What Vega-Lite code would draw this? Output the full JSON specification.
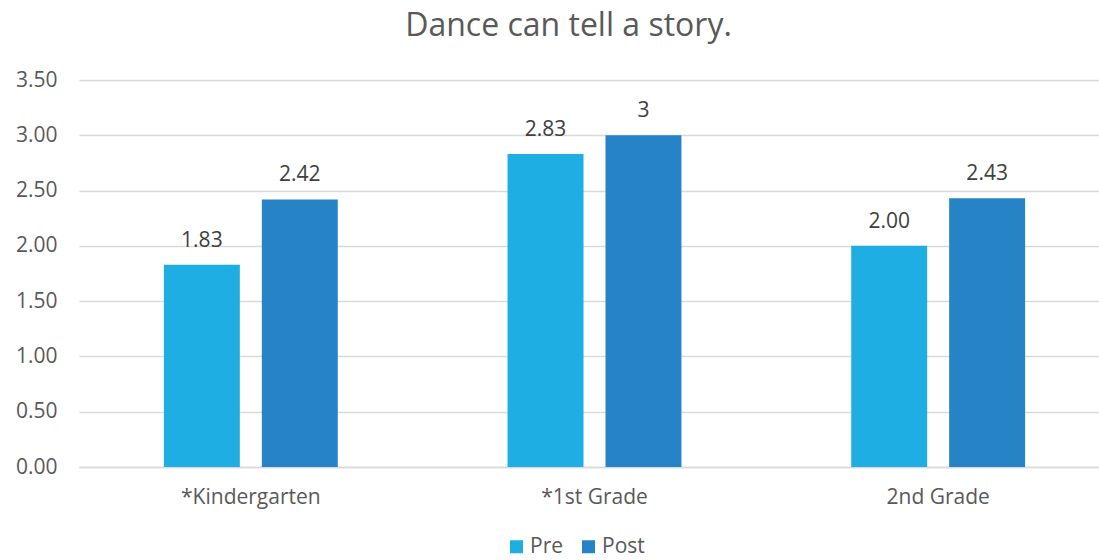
{
  "$schema": "https://vega.github.io/schema/vega-lite/v6.json",
  "autosize": {"type": "none"},
  "padding": {"left": 79, "top": 80, "right": 0, "bottom": 93},
  "width": 1031,
  "height": 387,
  "background": "white",
  "view": {"stroke": null},
  "title": {
    "text": "Dance can tell a story.",
    "anchor": "middle",
    "baseline": "bottom",
    "offset": 34,
    "dx": -26,
    "dy": 40,
    "font": "Open Sans",
    "fontSize": 32,
    "fontWeight": "normal",
    "color": "#595959"
  },
  "data": {
    "values": [
      {"grade": "*Kindergarten", "phase": "Pre", "value": 1.83, "label": "1.83"},
      {"grade": "*Kindergarten", "phase": "Post", "value": 2.42, "label": "2.42"},
      {"grade": "*1st Grade", "phase": "Pre", "value": 2.83, "label": "2.83"},
      {"grade": "*1st Grade", "phase": "Post", "value": 3, "label": "3"},
      {"grade": "2nd Grade", "phase": "Pre", "value": 2.0, "label": "2.00"},
      {"grade": "2nd Grade", "phase": "Post", "value": 2.43, "label": "2.43"}
    ]
  },
  "encoding": {
    "x": {
      "field": "grade",
      "type": "nominal",
      "sort": null,
      "title": null,
      "scale": {"paddingInner": 0.494, "paddingOuter": 0.247},
      "axis": {
        "labelAngle": 0,
        "labelFont": "Open Sans",
        "labelFontSize": 21,
        "labelColor": "#595959",
        "labelPadding": 19,
        "ticks": false,
        "domainColor": "#d9d9d9",
        "domainWidth": 1.5,
        "grid": false
      }
    },
    "xOffset": {
      "field": "phase",
      "type": "nominal",
      "sort": ["Pre", "Post"],
      "scale": {"paddingInner": 0.2245, "paddingOuter": 0}
    },
    "y": {
      "field": "value",
      "type": "quantitative",
      "title": null,
      "scale": {"domain": [0, 3.5], "nice": false},
      "axis": {
        "values": [0, 0.5, 1, 1.5, 2, 2.5, 3, 3.5],
        "format": ".2f",
        "labelFont": "Open Sans",
        "labelFontSize": 21,
        "labelColor": "#595959",
        "labelPadding": 22,
        "ticks": false,
        "domain": false,
        "gridColor": "#d9d9d9",
        "gridWidth": 1.5
      }
    }
  },
  "layer": [
    {
      "mark": {"type": "bar"},
      "encoding": {
        "color": {
          "field": "phase",
          "type": "nominal",
          "sort": ["Pre", "Post"],
          "scale": {"domain": ["Pre", "Post"], "range": ["#1FAEE3", "#2683C6"]},
          "legend": {
            "title": null,
            "orient": "none",
            "direction": "horizontal",
            "legendX": 427,
            "legendY": 456,
            "symbolType": "square",
            "symbolSize": 169,
            "symbolStrokeWidth": 0,
            "labelFont": "Open Sans",
            "labelFontSize": 21,
            "labelColor": "#595959",
            "labelOffset": 3,
            "columnPadding": 14
          }
        }
      }
    },
    {
      "mark": {
        "type": "text",
        "baseline": "alphabetic",
        "dy": -18,
        "font": "Open Sans",
        "fontSize": 21,
        "color": "#404040"
      },
      "encoding": {
        "text": {"field": "label", "type": "nominal"}
      }
    }
  ]
}
